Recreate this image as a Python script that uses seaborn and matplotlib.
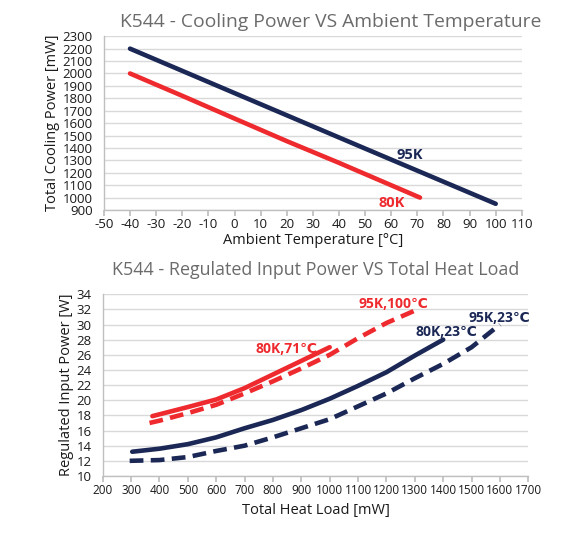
import matplotlib
matplotlib.use("Agg")
import matplotlib.pyplot as plt
import seaborn as sns
import numpy as np

# ---- Data: top chart ----
amb_95k = [-40, 0, 50, 100]
cool_95k = [2200, 1842, 1395, 950]
amb_80k = [-40, -20, 0, 20, 40, 71]
cool_80k = [2000, 1820, 1637, 1455, 1280, 1000]

# ---- Data: bottom chart ----
hl_80k71 = [375, 500, 600, 700, 800, 900, 1000]
pw_80k71 = [17.9, 19.1, 20.1, 21.6, 23.4, 25.2, 27.0]
hl_95k100 = [365, 400, 500, 600, 700, 800, 900, 1000, 1100, 1200, 1310]
pw_95k100 = [17.0, 17.3, 18.3, 19.4, 20.9, 22.5, 24.2, 26.0, 28.2, 30.2, 32.0]
hl_80k23 = [304, 400, 500, 600, 700, 800, 900, 1000, 1100, 1200, 1300, 1400]
pw_80k23 = [13.2, 13.6, 14.2, 15.1, 16.3, 17.4, 18.7, 20.2, 21.9, 23.7, 25.9, 28.0]
hl_95k23 = [295, 400, 500, 600, 700, 800, 900, 1000, 1100, 1200, 1300, 1400, 1500, 1600]
pw_95k23 = [12.0, 12.1, 12.5, 13.3, 14.0, 15.1, 16.3, 17.5, 19.2, 20.9, 22.9, 24.8, 27.0, 30.0]

top_xticks = list(range(-50, 111, 10))
top_yticks = list(range(900, 2301, 100))
bot_xticks = list(range(200, 1701, 100))
bot_yticks = list(range(10, 35, 2))

NAVY = "#1b2856"
RED = "#ee2a2e"
GRID = "#d9d9d9"
TXT = "#1a1a1a"

sns.set_theme(style="white")
plt.rcParams['font.family'] = ['Open Sans', 'DejaVu Sans']
plt.rcParams['axes.unicode_minus'] = False

fig = plt.figure(figsize=(5.87, 5.33), dpi=100)
ax1 = fig.add_axes([0.177, 0.606, 0.712, 0.326])
ax2 = fig.add_axes([0.175, 0.107, 0.725, 0.341])

def style(ax, xt, yt):
    ax.set_xticks(xt)
    ax.set_yticks(yt)
    ax.set_xlim(xt[0], xt[-1])
    ax.set_ylim(yt[0], yt[-1])
    ax.yaxis.grid(True, color=GRID, linewidth=1)
    ax.xaxis.grid(False)
    ax.set_axisbelow(True)
    for s in ["top", "right"]:
        ax.spines[s].set_visible(False)
    for s in ["left", "bottom"]:
        ax.spines[s].set_color("#bfbfbf")
        ax.spines[s].set_linewidth(1)
    ax.tick_params(axis="x", which="both", bottom=True, length=4, color="#bfbfbf",
                   labelsize=9.5, labelcolor=TXT, pad=2)
    ax.tick_params(axis="y", left=False, labelsize=9.5, labelcolor=TXT, pad=2)

lw = 3.3
sns.lineplot(x=amb_95k, y=cool_95k, ax=ax1, color=NAVY, linewidth=lw,
             solid_capstyle="round")
sns.lineplot(x=amb_80k, y=cool_80k, ax=ax1, color=RED, linewidth=lw,
             solid_capstyle="round")
style(ax1, top_xticks, top_yticks)
ax1.set_xlabel("Ambient Temperature [°C]", fontsize=10.5, color=TXT, labelpad=1)
ax1.set_ylabel("Total Cooling Power [mW]", fontsize=10.5, color=TXT, labelpad=2)
ax1.text(67, 1340, "95K", color=NAVY, fontsize=10.5, fontweight="bold", ha="center", va="center")
ax1.text(60, 953, "80K", color=RED, fontsize=10.5, fontweight="bold", ha="center", va="center")
fig.text(0.563, 0.958, "K544 - Cooling Power VS Ambient Temperature", ha="center", va="center",
         fontsize=13.9, color="#6b6b6b")

dash = (3, 1.6)
sns.lineplot(x=hl_80k71, y=pw_80k71, ax=ax2, color=RED, linewidth=lw, solid_capstyle="round")
l = sns.lineplot(x=hl_95k100, y=pw_95k100, ax=ax2, color=RED, linewidth=lw)
l.lines[-1].set_dashes(dash)
sns.lineplot(x=hl_80k23, y=pw_80k23, ax=ax2, color=NAVY, linewidth=lw, solid_capstyle="round")
l = sns.lineplot(x=hl_95k23, y=pw_95k23, ax=ax2, color=NAVY, linewidth=lw)
l.lines[-1].set_dashes(dash)
style(ax2, bot_xticks, bot_yticks)
ax2.tick_params(axis="x", labelsize=8.5)
ax2.set_xlabel("Total Heat Load [mW]", fontsize=10.5, color=TXT, labelpad=4)
ax2.set_ylabel("Regulated Input Power [W]", fontsize=10.5, color=TXT, labelpad=2)
ax2.text(1223, 32.7, "95K,100℃", color=RED, fontsize=10, fontweight="bold", ha="center", va="center")
ax2.text(847, 26.8, "80K,71℃", color=RED, fontsize=10, fontweight="bold", ha="center", va="center")
ax2.text(1410, 29.0, "80K,23℃", color=NAVY, fontsize=10, fontweight="bold", ha="center", va="center")
ax2.text(1597, 30.9, "95K,23℃", color=NAVY, fontsize=10, fontweight="bold", ha="center", va="center")
fig.text(0.537, 0.494, "K544 - Regulated Input Power VS Total Heat Load", ha="center", va="center",
         fontsize=12.9, color="#6b6b6b")

fig.savefig("out.png", dpi=100)
